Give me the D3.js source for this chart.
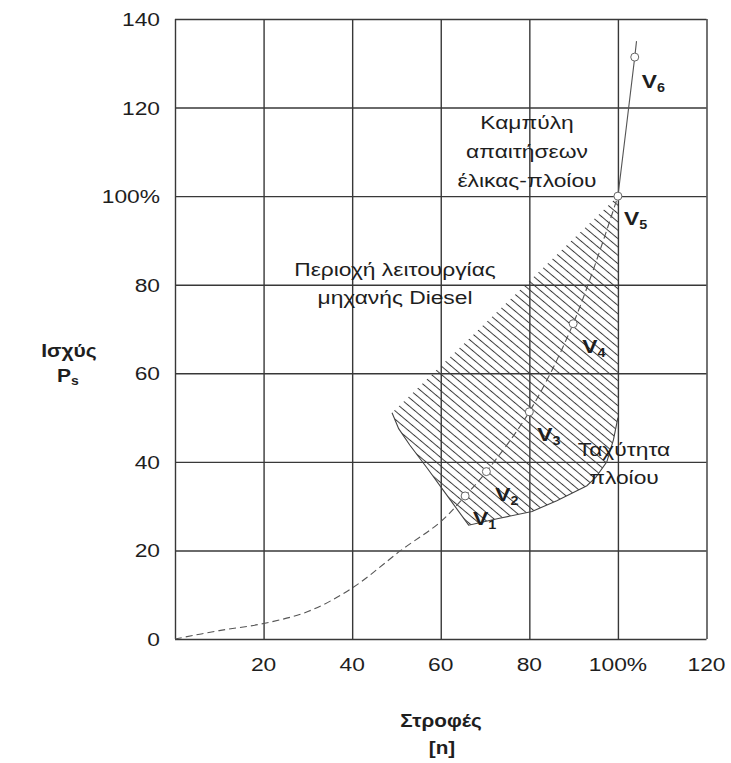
<!DOCTYPE html>
<html>
<head>
<meta charset="utf-8">
<script src="https://cdn.jsdelivr.net/npm/d3@7/dist/d3.min.js"></script>
<style>
  html, body { margin: 0; padding: 0; background: #fff; }
  svg { display: block; font-family: "Liberation Sans", Arial, sans-serif; }
</style>
</head>
<body>
<svg id="chart" width="731" height="763"></svg>
<script>
// Axis ticks and labels
const xTicks = [20, 40, 60, 80, 100, 120];
const xTickLabels = ["20", "40", "60", "80", "100%", "120"];
const yTicks = [0, 20, 40, 60, 80, 100, 120, 140];
const yTickLabels = ["0", "20", "40", "60", "80", "100%", "120", "140"];

// Propeller demand curve (speed n, power P)
const curveN = [0, 10, 20, 30, 40, 51, 60, 65.5, 70.3, 80, 89.9, 100];
const curveP = [0, 1.9, 3.5, 6.2, 11.5, 20, 26.5, 32.3, 37.8, 51.3, 71.2, 100];
// Continuation above nominal point
const upperN = [100, 103.8, 104.2];
const upperP = [100, 131.4, 135];

// Marked ship speeds on the curve
const speedNames = ["1", "2", "3", "4", "5", "6"];
const speedN = [65.5, 70.3, 80, 89.9, 100, 103.8];
const speedP = [32.3, 37.8, 51.3, 71.2, 100, 131.4];

// Diesel engine operating region outline
const regionN = [49, 100, 100, 99, 97.5, 95, 93, 86.2, 80.6, 73, 66.3, 61, 57, 53, 50.5];
const regionP = [51.1, 100, 50, 45, 40, 36.5, 34.6, 31.2, 28.8, 27.2, 25.7, 33, 38.5, 43.8, 47.5];

const svg = d3.select("#chart");
const x = d3.scaleLinear().domain([0, 120]).range([175, 706.5]);
const y = d3.scaleLinear().domain([0, 140]).range([639, 19]);

const gridColor = "#383838";
const textColor = "#1e1e1e";
const stretch = 1.2; // glyphs are drawn slightly wide

// Text helper: places a label with a horizontal stretch around its anchor
function label(parent, px, py, str, size, opts = {}) {
  const t = parent.append("text")
    .attr("transform", `translate(${px},${py}) scale(${opts.sx || stretch},1)`)
    .attr("text-anchor", opts.anchor || "middle")
    .attr("font-size", size)
    .attr("font-weight", opts.bold ? "bold" : "normal")
    .attr("fill", textColor);
  if (str !== null) t.text(str);
  return t;
}

// Hatch pattern for the operating region
const defs = svg.append("defs");
const pat = defs.append("pattern")
  .attr("id", "hatch")
  .attr("patternUnits", "userSpaceOnUse")
  .attr("width", 20).attr("height", 6.4)
  .attr("patternTransform", "rotate(40)");
pat.append("line")
  .attr("x1", -5).attr("y1", 3.2).attr("x2", 25).attr("y2", 3.2)
  .attr("stroke", "#3a3a3a").attr("stroke-width", 1);

// Grid
const gx = svg.append("g")
  .attr("transform", `translate(0,${y(0)})`)
  .call(d3.axisBottom(x).tickValues([0].concat(xTicks)).tickSize(y(140) - y(0)).tickFormat(""));
gx.select(".domain").remove();
gx.selectAll("line").attr("stroke", gridColor).attr("stroke-width", 1.4);

const gy = svg.append("g")
  .attr("transform", `translate(${x(0)},0)`)
  .call(d3.axisLeft(y).tickValues(yTicks).tickSize(-(x(120) - x(0))).tickFormat(""));
gy.select(".domain").remove();
gy.selectAll("line").attr("stroke", gridColor).attr("stroke-width", 1.4);

// Operating region
const regionPts = regionN.map((n, i) => [x(n), y(regionP[i])]);
svg.append("path")
  .attr("d", "M" + regionPts.map(p => p.join(",")).join("L") + "Z")
  .attr("fill", "url(#hatch)")
  .attr("stroke", "none");
// Lower boundary of the region drawn as a line
const lowerIdx = [2, 3, 4, 5, 6, 7, 8, 9, 10, 11, 12, 13, 14, 0];
svg.append("path")
  .attr("d", d3.line()(lowerIdx.map(i => regionPts[i])))
  .attr("fill", "none").attr("stroke", "#444").attr("stroke-width", 1.1);

// Demand curve
const line = d3.line().curve(d3.curveCatmullRom.alpha(0.5));
svg.append("path")
  .attr("d", line(curveN.map((n, i) => [x(n), y(curveP[i])])))
  .attr("fill", "none").attr("stroke", "#555").attr("stroke-width", 1.1)
  .attr("stroke-dasharray", "7,4");
svg.append("path")
  .attr("d", line(upperN.map((n, i) => [x(n), y(upperP[i])])))
  .attr("fill", "none").attr("stroke", "#555").attr("stroke-width", 1.1);

// Speed markers
svg.selectAll("circle.speed").data(speedN).enter().append("circle")
  .attr("class", "speed")
  .attr("cx", d => x(d))
  .attr("cy", (d, i) => y(speedP[i]))
  .attr("r", 4)
  .attr("fill", "#fff").attr("stroke", "#666").attr("stroke-width", 1);

// Speed labels
const vOffsets = [[8, 29], [9, 29], [8, 29], [9, 29], [6, 29], [7, 31]];
speedNames.forEach((s, i) => {
  const t = label(svg, x(speedN[i]) + vOffsets[i][0], y(speedP[i]) + vOffsets[i][1], null, 19,
    { bold: true, anchor: "start" });
  t.append("tspan").text("V");
  t.append("tspan").attr("font-size", 12).attr("dy", 4).text(s);
});

// Tick labels
const tl = svg.append("g");
xTicks.forEach((d, i) => label(tl, x(d), 671, xTickLabels[i], 19));
yTicks.forEach((d, i) => label(tl, 160, y(d) + 7, yTickLabels[i], 19, { anchor: "end" }));

// Axis titles
label(svg, 441, 727, "Στροφές", 18, { bold: true, sx: 1.15 });
label(svg, 442, 754, "[n]", 18, { bold: true, sx: 1.15 });
label(svg, 69, 357, "Ισχύς", 18, { bold: true, sx: 1.17 });
const ps = label(svg, 68, 382, null, 18, { bold: true, sx: 1.17 });
ps.append("tspan").text("P");
ps.append("tspan").attr("font-size", 12).attr("dy", 3).text("s");

// Annotations
function block(lines, cx, y0, dy) {
  lines.forEach((s, i) => label(svg, cx, y0 + i * dy, s, 19));
}
block(["Καμπύλη", "απαιτήσεων", "έλικας-πλοίου"], 527, 129, 29);
block(["Περιοχή λειτουργίας", "μηχανής Diesel"], 395, 276, 28);
block(["Ταχύτητα", "πλοίου"], 624, 456, 28);
</script>
</body>
</html>
